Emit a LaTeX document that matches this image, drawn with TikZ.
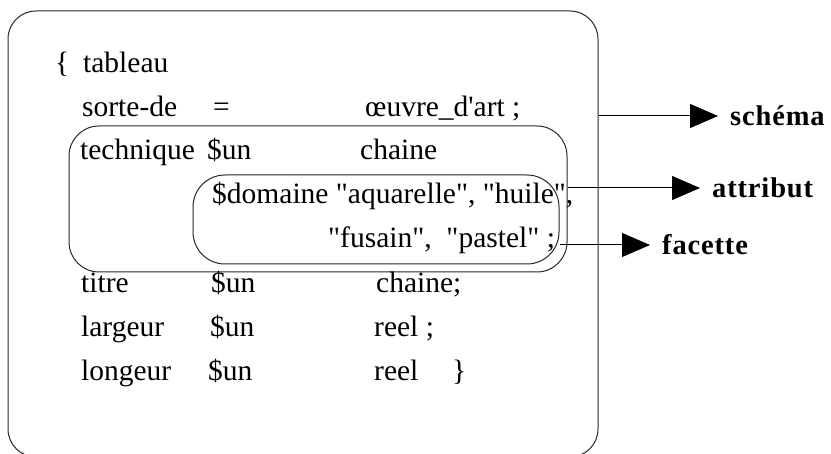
\documentclass[tikz,border=0pt]{standalone}
\usepackage{fontspec}
\setmainfont{Liberation Serif}[Ligatures=TeXOff]
\newfontfamily\tagfont[LetterSpace=3]{Liberation Serif}
\usetikzlibrary{arrows.meta}

\tikzset{
  word/.style={anchor=base west, inner sep=0pt, font=\fontsize{29.5}{35}\selectfont},
  frame/.style={draw=black!85, line width=1pt, rounded corners=#1, inner sep=0pt},
  tag/.style={anchor=west, inner sep=0pt, font=\tagfont\bfseries\fontsize{28.5}{32}\selectfont},
  pointer/.style={draw, line width=1pt, shorten >=12pt, -{Triangle[length=28pt,width=24pt]}}
}

\begin{document}
\begin{tikzpicture}[x=1pt, y=-1pt]
  \useasboundingbox (0,0) rectangle (831,454);

  % the three frames
  \node (schemabox) [frame=28, minimum width=590pt, minimum height=446pt] at (303,234) {};
  \node (attrbox) [frame=30, minimum width=498pt, minimum height=146pt] at (318,199) {};
  \node (facettebox) [frame=32, minimum width=366pt, minimum height=89pt] at (376,219.5) {};

  % the text
  \node (open) [word] at (55,73) {\{};
  \node (tableau) [word] at (83,73) {tableau};

  \node (sorte) [word] at (82,117) {sorte-de};
  \node (egal) [word] at (213,117) {=};
  \node (oeuvre) [word] at (365,117) {œuvre\_d'art ;};

  \node (technique) [word] at (80,160) {technique};
  \node (un1) [word] at (207,160) {\$un};
  \node (chaine1) [word] at (360,160) {chaine};

  \node (domaine) [word] at (212,204) {\$domaine "aquarelle", "huile",};
  \node (valeurs) [word] at (328,248) {"fusain",\ \ "pastel" ;};

  \node (titre) [word] at (81,293) {titre};
  \node (un2) [word] at (211,293) {\$un};
  \node (chaine2) [word] at (376,293) {chaine;};

  \node (largeur) [word] at (81,337) {largeur};
  \node (un3) [word] at (210,337) {\$un};
  \node (reel1) [word] at (374,337) {reel ;};

  \node (longeur) [word] at (81,381) {longeur};
  \node (un4) [word] at (208,381) {\$un};
  \node (reel2) [word] at (374,381) {reel};
  \node (close) [word] at (452,381) {\}};

  % the labels
  \node (schema) [tag] at (730,116) {schéma};
  \node (attribut) [tag] at (712,188) {attribut};
  \node (facette) [tag] at (662,245) {facette};

  \draw[pointer] (schemabox.east |- schema.west) -- (schema.west);
  \draw[pointer] (attrbox.east |- attribut.west) -- (attribut.west);
  \draw[pointer] (facettebox.east |- facette.west) -- (facette.west);
\end{tikzpicture}
\end{document}
